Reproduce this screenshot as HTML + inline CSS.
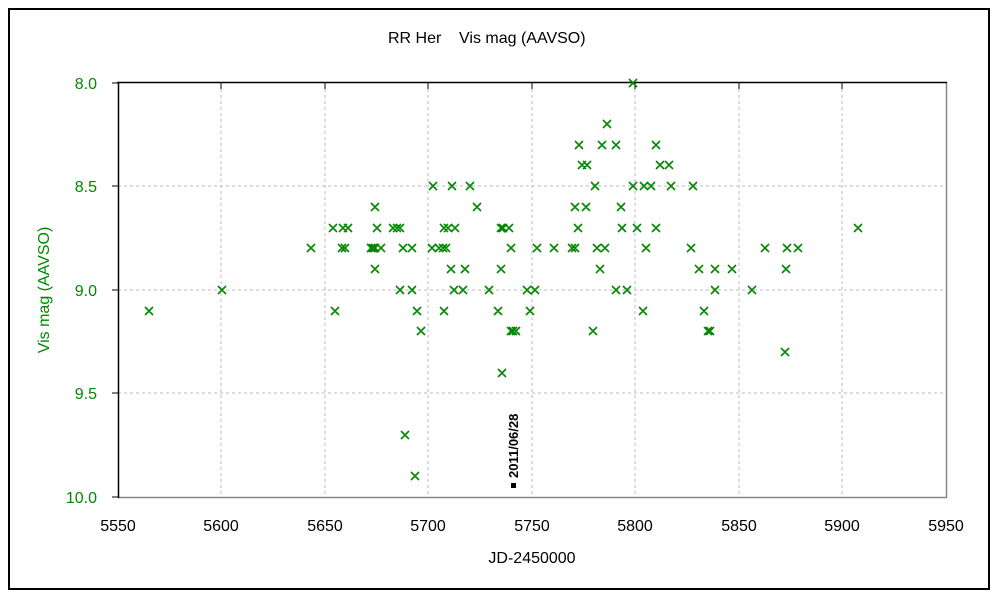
<!DOCTYPE html>
<html><head><meta charset="utf-8"><style>
html,body{margin:0;padding:0;background:#fff;}
svg{display:block;}
text{font-family:"Liberation Sans",sans-serif;}
</style></head><body>
<svg width="1000" height="600" xmlns="http://www.w3.org/2000/svg">
<rect x="9" y="9" width="980" height="580" fill="#fff" stroke="#000" stroke-width="2"/>
<text x="388" y="43" font-size="16" fill="#000">RR Her</text>
<text x="459" y="43" font-size="16" fill="#000">Vis mag (AAVSO)</text>
<g stroke="#bbb" stroke-width="1" stroke-dasharray="3,3">
<line x1="221" y1="83" x2="221" y2="497"/><line x1="325" y1="83" x2="325" y2="497"/>
<line x1="428" y1="83" x2="428" y2="497"/><line x1="532" y1="83" x2="532" y2="497"/>
<line x1="635" y1="83" x2="635" y2="497"/><line x1="739" y1="83" x2="739" y2="497"/>
<line x1="842" y1="83" x2="842" y2="497"/>
<line x1="118" y1="186" x2="946" y2="186"/><line x1="118" y1="290" x2="946" y2="290"/>
<line x1="118" y1="393" x2="946" y2="393"/>
</g>
<line x1="118" y1="497.5" x2="947" y2="497.5" stroke="#888" stroke-width="1.5"/>
<line x1="946.5" y1="82" x2="946.5" y2="498" stroke="#888" stroke-width="1.5"/>
<line x1="117" y1="82.5" x2="947" y2="82.5" stroke="#000" stroke-width="1.5"/>
<line x1="118.5" y1="82" x2="118.5" y2="498" stroke="#000" stroke-width="1.5"/>
<g stroke="#000" stroke-width="1">
<line x1="221" y1="83" x2="221" y2="89"/><line x1="325" y1="83" x2="325" y2="89"/>
<line x1="428" y1="83" x2="428" y2="89"/><line x1="532" y1="83" x2="532" y2="89"/>
<line x1="635" y1="83" x2="635" y2="89"/><line x1="739" y1="83" x2="739" y2="89"/>
<line x1="842" y1="83" x2="842" y2="89"/>
<line x1="112" y1="83" x2="118" y2="83"/><line x1="112" y1="186" x2="118" y2="186"/>
<line x1="112" y1="290" x2="118" y2="290"/><line x1="112" y1="393" x2="118" y2="393"/>
<line x1="112" y1="497" x2="118" y2="497"/>
</g>
<g font-size="16" fill="#080" text-anchor="end">
<text x="97" y="89">8.0</text><text x="97" y="192">8.5</text><text x="97" y="296">9.0</text>
<text x="97" y="399">9.5</text><text x="97" y="503">10.0</text>
</g>
<text transform="translate(49,290) rotate(-90)" font-size="16" fill="#080" text-anchor="middle">Vis mag (AAVSO)</text>
<g font-size="16" fill="#000" text-anchor="middle">
<text x="118" y="531">5550</text><text x="221" y="531">5600</text><text x="325" y="531">5650</text>
<text x="428" y="531">5700</text><text x="532" y="531">5750</text><text x="635" y="531">5800</text>
<text x="739" y="531">5850</text><text x="842" y="531">5900</text><text x="946" y="531">5950</text>
</g>
<text x="532" y="563" font-size="16" fill="#000" text-anchor="middle">JD-2450000</text>
<text transform="translate(518,478) rotate(-90)" font-size="13" font-weight="bold" fill="#000">2011/06/28</text>
<rect x="511" y="483" width="5" height="5" fill="#000"/>
<g id="pts" stroke="#080" stroke-width="1.6" fill="none"></g>
</svg>
<script>
var rows={83:[633],124:[607],145:[579,602,616,656],165:[582,587,660,669],
186:[433,452,470,595,633,644,651,671,693],207:[375,477,575,586,621],
228:[333,343,348,377,393,397,400,444,448,455,501,503,509,578,622,637,656,858],
248:[311,342,345,371,373,375,381,403,412,432,439,443,446,511,537,554,572,575,597,605,646,691,765,787,798],
269:[375,451,465,501,600,699,715,732,786],
290:[222,400,412,454,463,489,527,535,616,627,715,752],
311:[149,335,417,444,498,530,643,704],
331:[421,511,513,516,593,708,710],352:[785],373:[502],435:[405],476:[415]};
var d="";for(var y in rows){rows[y].forEach(function(x){d+="M"+(x-4)+" "+(y-4)+"l8 8M"+(x+4)+" "+(y-4)+"l-8 8";});}
var p=document.createElementNS("http://www.w3.org/2000/svg","path");p.setAttribute("d",d);
document.getElementById("pts").appendChild(p);
</script>
</body></html>
